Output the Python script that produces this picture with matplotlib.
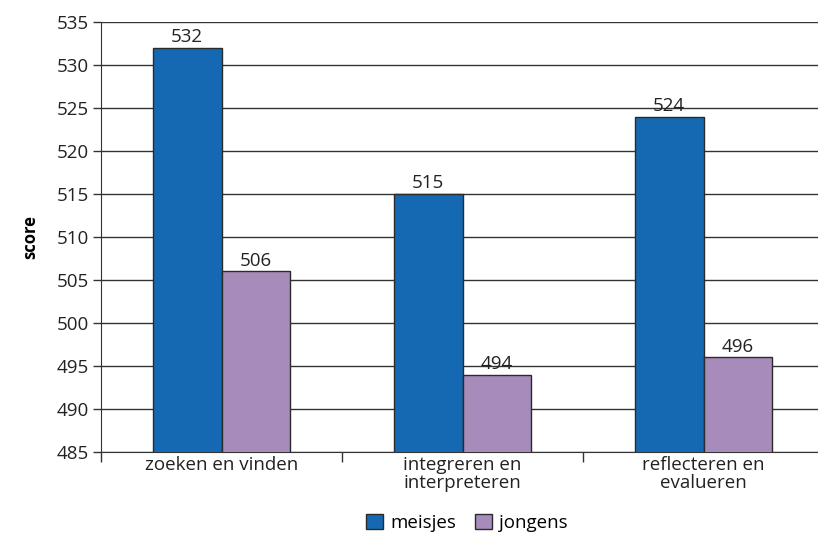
import matplotlib.pyplot as plt
import numpy as np

categories = ["zoeken en vinden", "integreren en\ninterpreteren", "reflecteren en\nevalueren"]
meisjes = [532, 515, 524]
jongens = [506, 494, 496]
series_names = ["meisjes", "jongens"]
yticks = [485, 490, 495, 500, 505, 510, 515, 520, 525, 530, 535]

plt.rcParams['font.family'] = ['Open Sans', 'DejaVu Sans']

fig = plt.figure(figsize=(8.18, 5.39), dpi=100)
ax = fig.add_axes([101 / 818, 1 - 452 / 539, 717 / 818, 430 / 539])

x = np.arange(len(categories))
w = 0.286
edge = "#2b2b2b"
fs = 13.5
b1 = ax.bar(x - w / 2, meisjes, w, color="#1569b3", edgecolor=edge, linewidth=1, zorder=3, label=series_names[0])
b2 = ax.bar(x + w / 2, jongens, w, color="#a68bbb", edgecolor=edge, linewidth=1, zorder=3, label=series_names[1])

for bars, vals in ((b1, meisjes), (b2, jongens)):
    for r, v in zip(bars, vals):
        ax.text(r.get_x() + r.get_width() / 2, v + 0.2, str(v), ha="center", va="bottom",
                fontsize=fs, color="#222222")

ax.set_ylim(485, 535)
ax.set_yticks(yticks)
ax.set_xlim(-0.5, 2.475)
ax.yaxis.grid(True, color="#333333", linewidth=1, zorder=0)
ax.set_axisbelow(True)
ax.set_xticks(x)
ax.set_xticklabels(categories, linespacing=1.0)
ax.tick_params(axis="x", length=0, labelsize=fs, pad=3, colors="#222222")
ax.set_xticks([-0.5, 0.5, 1.5], minor=True)
ax.tick_params(axis="x", which="minor", length=7, width=1, color="#333333")
ax.tick_params(axis="y", length=6, width=1, labelsize=fs, pad=3, color="#333333", labelcolor="#222222")
for s in ("top", "right"):
    ax.spines[s].set_visible(False)
for s in ("left", "bottom"):
    ax.spines[s].set_color("#333333")
ax.set_ylabel("score", fontsize=12, fontweight="bold", labelpad=12)

ax.legend(loc="lower center", bbox_to_anchor=(0.54 - 0.03, -0.225), ncol=2, frameon=False,
          fontsize=fs, handlelength=0.9, handleheight=0.9, handletextpad=0.4, columnspacing=1.0)

fig.savefig("out.png", dpi=100)
